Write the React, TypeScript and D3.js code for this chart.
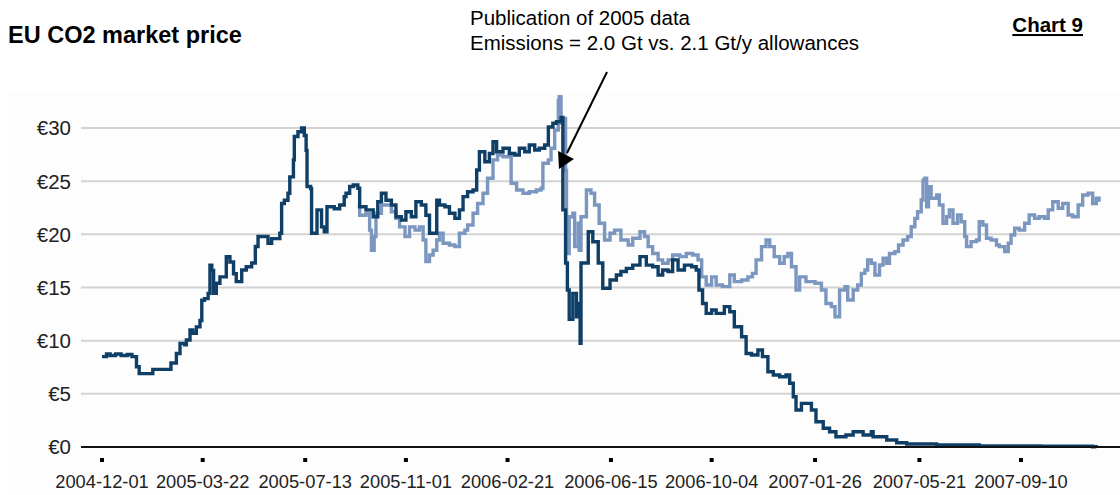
import React from "react";
import * as d3 from "d3";

// Phase I allowance price (dark line)
const phase1Dates = [
  "2004-12-01", "2004-12-06", "2004-12-10", "2004-12-16", "2004-12-22", "2004-12-29",
  "2005-01-03", "2005-01-08", "2005-01-11", "2005-01-24", "2005-01-26", "2005-02-12",
  "2005-02-15", "2005-02-21", "2005-02-25", "2005-03-02", "2005-03-04", "2005-03-08",
  "2005-03-11", "2005-03-15", "2005-03-19", "2005-03-21", "2005-03-24", "2005-03-28",
  "2005-03-30", "2005-04-01", "2005-04-03", "2005-04-06", "2005-04-10", "2005-04-13",
  "2005-04-17", "2005-04-21", "2005-04-25", "2005-04-28", "2005-05-04", "2005-05-09",
  "2005-05-15", "2005-05-19", "2005-05-22", "2005-05-28", "2005-06-02", "2005-06-06",
  "2005-06-15", "2005-06-17", "2005-06-20", "2005-06-24", "2005-06-26", "2005-06-30",
  "2005-07-01", "2005-07-05", "2005-07-09", "2005-07-12", "2005-07-14", "2005-07-15",
  "2005-07-19", "2005-07-20", "2005-07-24", "2005-07-26", "2005-07-29", "2005-07-31",
  "2005-08-03", "2005-08-06", "2005-08-11", "2005-08-14", "2005-08-20", "2005-08-25",
  "2005-08-27", "2005-08-31", "2005-09-04", "2005-09-09", "2005-09-11", "2005-09-18",
  "2005-09-26", "2005-10-01", "2005-10-05", "2005-10-10", "2005-10-16", "2005-10-21",
  "2005-10-27", "2005-11-01", "2005-11-07", "2005-11-12", "2005-11-18", "2005-11-23",
  "2005-11-27", "2005-12-03", "2005-12-05", "2005-12-08", "2005-12-14", "2005-12-19",
  "2005-12-25", "2005-12-30", "2006-01-03", "2006-01-08", "2006-01-14", "2006-01-18",
  "2006-01-21", "2006-01-27", "2006-02-01", "2006-02-05", "2006-02-09", "2006-02-16",
  "2006-02-23", "2006-03-01", "2006-03-06", "2006-03-12", "2006-03-17", "2006-03-23",
  "2006-03-28", "2006-04-03", "2006-04-07", "2006-04-12", "2006-04-16", "2006-04-21",
  "2006-04-23", "2006-04-26", "2006-04-28", "2006-04-30", "2006-05-04", "2006-05-08",
  "2006-05-10", "2006-05-12", "2006-05-13", "2006-05-17", "2006-05-21", "2006-05-26",
  "2006-06-01", "2006-06-06", "2006-06-14", "2006-06-21", "2006-06-26", "2006-07-02",
  "2006-07-09", "2006-07-17", "2006-07-24", "2006-07-31", "2006-08-06", "2006-08-11",
  "2006-08-17", "2006-08-22", "2006-08-28", "2006-09-04", "2006-09-12", "2006-09-17",
  "2006-09-20", "2006-09-24", "2006-09-28", "2006-10-04", "2006-10-09", "2006-10-18",
  "2006-10-24", "2006-10-29", "2006-11-06", "2006-11-11", "2006-11-17", "2006-11-24",
  "2006-11-29", "2006-12-05", "2006-12-11", "2006-12-18", "2006-12-25", "2006-12-29",
  "2007-01-02", "2007-01-05", "2007-01-11", "2007-01-16", "2007-01-22", "2007-01-27",
  "2007-02-04", "2007-02-11", "2007-02-18", "2007-03-01", "2007-03-09", "2007-03-20",
  "2007-03-29", "2007-03-31", "2007-04-15", "2007-04-26", "2007-05-07", "2007-06-09",
  "2007-07-26", "2007-10-01", "2007-11-28", "2007-12-02",
];
const phase1Prices = [
  8.5, 8.75, 8.6, 8.75, 8.6, 8.7,
  8.5, 7.55, 6.9, 6.9, 7.3, 7.3,
  7.9, 8.8, 9.75, 9.6, 10.06, 11.0,
  10.7, 11.3, 11.9, 13.8, 13.95, 14.45,
  17.1, 16.6, 14.45, 15.4, 16.0, 16.0,
  17.9, 17.4, 16.3, 15.55, 16.65, 16.95,
  17.3, 18.85, 19.8, 19.8, 19.15, 19.6,
  20.1, 22.9, 23.2, 23.86, 25.4, 27.0,
  29.2, 29.65, 30.0, 29.3, 27.9, 24.5,
  24.3, 20.1, 20.1, 22.3, 22.3, 20.7,
  20.25, 22.6, 22.6, 22.4, 22.76, 23.55,
  23.86, 24.5, 24.64, 24.33, 22.6, 22.3,
  21.66, 23.07, 23.86, 23.2, 22.76, 21.66,
  21.35, 22.13, 21.66, 23.07, 22.76, 21.8,
  20.1, 20.1, 23.2, 22.76, 22.6, 21.98,
  21.5, 22.3, 23.55, 24.0, 24.17, 26.05,
  27.77, 26.83, 27.6, 28.7, 27.77, 28.1,
  27.6, 27.46, 28.1, 27.77, 28.4, 27.93,
  28.1, 28.4, 30.1, 30.44, 30.6, 31.0,
  22.3, 17.3, 14.77, 12.0, 14.45, 12.25,
  13.5, 9.75, 17.3, 17.3, 20.25, 19.3,
  17.3, 14.93, 15.7, 16.18, 16.5, 16.8,
  17.1, 17.9, 17.1, 16.95, 16.18, 16.65,
  16.5, 17.6, 16.65, 17.1, 16.95, 16.65,
  14.77, 13.5, 12.57, 12.88, 12.57, 13.2,
  12.72, 11.31, 10.37, 8.8, 8.65, 9.12,
  8.5, 7.08, 6.77, 6.6, 6.77, 6.0,
  4.73, 3.48, 4.1, 4.1, 3.48, 2.38,
  1.76, 1.44, 0.97, 1.13, 1.44, 1.13,
  1.44, 0.97, 0.66, 0.4, 0.28, 0.2,
  0.1, 0.08, 0.03, 0.0,
];

// Phase II (2008) allowance price (light line)
const phase2Dates = [
  "2005-09-09", "2005-09-11", "2005-09-18", "2005-09-22", "2005-09-24", "2005-09-27",
  "2005-09-29", "2005-10-05", "2005-10-10", "2005-10-16", "2005-10-21", "2005-10-25",
  "2005-10-31", "2005-11-05", "2005-11-11", "2005-11-16", "2005-11-20", "2005-11-23",
  "2005-11-27", "2005-12-01", "2005-12-05", "2005-12-08", "2005-12-12", "2005-12-19",
  "2005-12-25", "2005-12-30", "2006-01-05", "2006-01-08", "2006-01-14", "2006-01-19",
  "2006-01-25", "2006-01-30", "2006-02-05", "2006-02-10", "2006-02-16", "2006-02-23",
  "2006-02-25", "2006-03-03", "2006-03-10", "2006-03-17", "2006-03-25", "2006-03-30",
  "2006-04-01", "2006-04-07", "2006-04-10", "2006-04-14", "2006-04-18", "2006-04-19",
  "2006-04-21", "2006-04-25", "2006-04-26", "2006-04-27", "2006-04-30", "2006-05-04",
  "2006-05-06", "2006-05-10", "2006-05-11", "2006-05-13", "2006-05-19", "2006-05-24",
  "2006-05-28", "2006-06-02", "2006-06-08", "2006-06-14", "2006-06-19", "2006-06-26",
  "2006-07-04", "2006-07-09", "2006-07-17", "2006-07-22", "2006-07-26", "2006-07-31",
  "2006-08-06", "2006-08-11", "2006-08-17", "2006-08-22", "2006-08-30", "2006-09-06",
  "2006-09-13", "2006-09-19", "2006-09-23", "2006-09-28", "2006-10-04", "2006-10-09",
  "2006-10-16", "2006-10-24", "2006-10-29", "2006-11-06", "2006-11-13", "2006-11-18",
  "2006-11-22", "2006-11-28", "2006-12-03", "2006-12-07", "2006-12-12", "2006-12-18",
  "2006-12-23", "2006-12-27", "2006-12-31", "2007-01-05", "2007-01-09", "2007-01-16",
  "2007-01-26", "2007-02-02", "2007-02-07", "2007-02-13", "2007-02-17", "2007-02-22",
  "2007-02-28", "2007-03-03", "2007-03-09", "2007-03-14", "2007-03-18", "2007-03-22",
  "2007-03-25", "2007-03-29", "2007-04-02", "2007-04-07", "2007-04-11", "2007-04-15",
  "2007-04-18", "2007-04-24", "2007-04-28", "2007-05-03", "2007-05-08", "2007-05-12",
  "2007-05-16", "2007-05-19", "2007-05-23", "2007-05-25", "2007-05-27", "2007-05-29",
  "2007-05-31", "2007-06-03", "2007-06-09", "2007-06-12", "2007-06-16", "2007-06-20",
  "2007-06-23", "2007-06-27", "2007-07-02", "2007-07-06", "2007-07-10", "2007-07-12",
  "2007-07-17", "2007-07-23", "2007-07-26", "2007-07-30", "2007-08-03", "2007-08-08",
  "2007-08-14", "2007-08-17", "2007-08-23", "2007-08-27", "2007-08-30", "2007-09-03",
  "2007-09-08", "2007-09-14", "2007-09-19", "2007-09-25", "2007-09-30", "2007-10-06",
  "2007-10-10", "2007-10-15", "2007-10-21", "2007-10-26", "2007-11-01", "2007-11-06",
  "2007-11-12", "2007-11-17", "2007-11-23", "2007-11-28", "2007-12-02", "2007-12-05",
];
const phase2Prices = [
  22.6, 21.8, 21.98, 20.4, 18.5, 19.78,
  21.98, 22.76, 22.76, 22.13, 21.5, 20.7,
  19.78, 20.7, 20.4, 20.7, 19.47, 17.43,
  18.06, 18.5, 19.47, 20.1, 19.16, 19.0,
  18.84, 20.1, 20.4, 20.88, 21.98, 22.9,
  23.86, 25.27, 27.0, 27.46, 27.3, 27.46,
  24.8, 24.17, 23.86, 24.0, 24.17, 24.33,
  26.68, 27.0, 28.1, 29.8, 32.6, 32.95,
  30.44, 30.9, 26.0, 18.2, 21.66, 21.98,
  18.84, 21.04, 18.5, 21.66, 24.17, 23.86,
  22.76, 21.04, 19.47, 20.1, 20.4, 19.47,
  19.0, 19.63, 20.25, 19.78, 18.84, 18.2,
  17.6, 17.28, 17.6, 18.06, 17.9, 18.2,
  18.06, 17.6, 16.0, 15.24, 16.0, 15.24,
  15.08, 16.18, 15.55, 15.7, 16.0, 16.33,
  17.6, 18.84, 19.47, 18.84, 17.9, 17.28,
  17.9, 18.2, 16.95, 14.77, 16.0, 15.55,
  15.4, 14.77, 13.5, 13.2, 12.25, 14.77,
  15.08, 13.83, 14.77, 15.24, 16.33, 16.65,
  17.6, 17.28, 16.18, 17.12, 17.75, 17.28,
  18.2, 18.37, 19.0, 19.47, 19.78, 20.72,
  21.5, 22.13, 23.23, 25.1, 25.27, 22.6,
  24.48, 23.4, 23.7, 22.76, 21.04, 21.66,
  22.3, 21.04, 21.82, 21.19, 19.78, 18.84,
  19.31, 19.47, 21.19, 20.88, 19.63, 19.47,
  19.0, 18.84, 18.37, 19.16, 19.94, 20.57,
  20.4, 21.04, 21.82, 21.5, 21.66, 21.5,
  22.3, 23.07, 22.45, 22.9, 21.82, 21.66,
  22.76, 23.7, 23.86, 22.9, 23.4, 23.07,
];

const xTickLabels = [
  "2004-12-01", "2005-03-22", "2005-07-13", "2005-11-01", "2006-02-21",
  "2006-06-15", "2006-10-04", "2007-01-26", "2007-05-21", "2007-09-10",
];
const yTicks = [0, 5, 10, 15, 20, 25, 30];

const W = 1120;
const H = 495;
const FONT = "Arial, 'Liberation Sans', sans-serif";

const parse = d3.timeParse("%Y-%m-%d");

export default function App() {
  const x = d3
    .scaleTime()
    .domain([parse("2004-12-01"), parse("2007-09-10")])
    .range([102, 1021]);
  const y = d3.scaleLinear().domain([0, 30]).range([447, 128]);

  const line = d3
    .line<[Date, number]>()
    .x((d) => x(d[0]))
    .y((d) => y(d[1]))
    .curve(d3.curveStepAfter);

  const phase1 = phase1Dates.map((d, i) => [parse(d), phase1Prices[i]] as [Date, number]);
  const phase2 = phase2Dates.map((d, i) => [parse(d), phase2Prices[i]] as [Date, number]);

  return (
    <div style={{ position: "absolute", left: 0, top: 0 }}>
      <svg width={W} height={H} style={{ display: "block", background: "#fff" }}>
        <rect x={7} y={93} width={W - 7} height={H - 93} fill="#fdfdfd" />

        <text x={8} y={43} fontFamily={FONT} fontSize={23.5} fontWeight="bold" fill="#000">
          EU CO2 market price
        </text>
        <text x={470} y={25} fontFamily={FONT} fontSize={20.5} fill="#000">
          Publication of 2005 data
        </text>
        <text x={470} y={50} fontFamily={FONT} fontSize={20.5} fill="#000">
          Emissions = 2.0 Gt vs. 2.1 Gt/y allowances
        </text>
        <text
          x={1083}
          y={32}
          textAnchor="end"
          fontFamily={FONT}
          fontSize={20.5}
          fontWeight="bold"
          textDecoration="underline"
          fill="#000"
        >
          Chart 9
        </text>

        {yTicks.map((t) => (
          <g key={t}>
            {t > 0 && (
              <line x1={81} x2={W} y1={y(t)} y2={y(t)} stroke="#d3d3d3" strokeWidth={2} />
            )}
            <text
              x={71}
              y={y(t)}
              dy="0.36em"
              textAnchor="end"
              fontFamily={FONT}
              fontSize={20.5}
              fill="#222"
            >
              {"€" + t}
            </text>
          </g>
        ))}

        <path d={line(phase2) ?? ""} fill="none" stroke="#7b97c0" strokeWidth={3.4} />
        <path d={line(phase1) ?? ""} fill="none" stroke="#0f3f66" strokeWidth={3.4} />

        <line x1={81} x2={W} y1={y(0)} y2={y(0)} stroke="#111" strokeWidth={2} />

        {xTickLabels.map((d) => {
          const px = x(parse(d)!);
          return (
            <g key={d}>
              <rect x={px - 2} y={458} width={4} height={4} fill="#000" />
              <text
                x={px}
                y={488}
                textAnchor="middle"
                fontFamily={FONT}
                fontSize={18.3}
                fill="#222"
              >
                {d}
              </text>
            </g>
          );
        })}

        <line x1={607} y1={72} x2={567} y2={153} stroke="#000" strokeWidth={2} />
        <polygon points="559,169 558,151 574,159" fill="#000" />
      </svg>
    </div>
  );
}
